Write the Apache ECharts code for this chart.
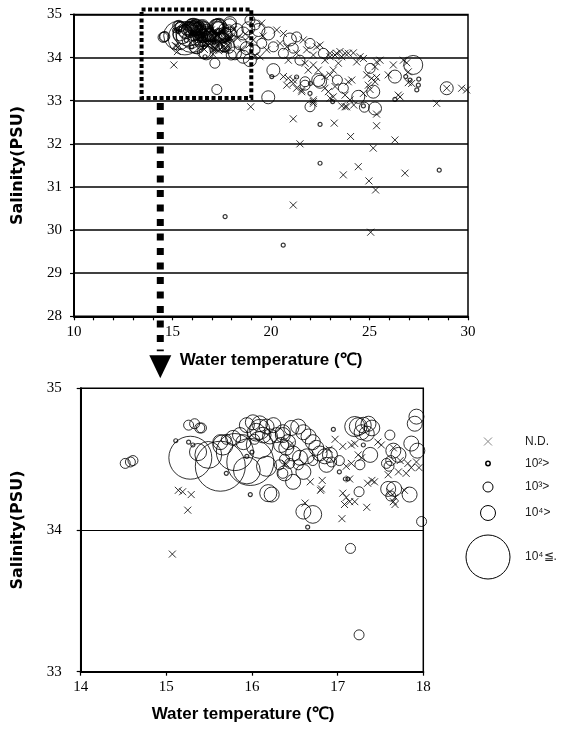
<!DOCTYPE html>
<html><head><meta charset="utf-8">
<script src="https://cdn.jsdelivr.net/npm/echarts@6/dist/echarts.min.js"></script>
<style>html,body{margin:0;padding:0;background:#fff}#c{width:561px;height:729px}</style>
</head><body><div id="c"></div>
<script>
// ---- axis ticks ----
const topXRange = [10, 30];
const topYRange = [28, 35];
const zoomXRange = [14, 18];
const zoomYRange = [33, 35];
const topXLabelStep = 5;

// ---- data: [water temperature (°C), salinity (PSU)] ----
// N.D. (not detected)
const notDetected = [
  [15.14,34.28],[15.19,34.27],[15.29,34.25],[15.25,34.14],[15.07,33.83],
  [16.39,34.47],[16.68,34.34],[16.82,34.35],[16.81,34.29],[16.80,34.28],[16.62,34.19],
  [16.97,34.64],[17.06,34.59],[17.16,34.60],[17.20,34.61],[17.24,34.53],[17.28,34.51],
  [17.47,34.62],[17.51,34.60],[17.65,34.58],[17.73,34.49],[17.82,34.47],[17.86,34.44],[17.80,34.40],[17.71,34.41],[17.59,34.39],
  [17.10,34.45],[17.16,34.47],[17.14,34.36],[17.35,34.33],[17.40,34.35],[17.43,34.34],
  [17.06,34.26],[17.10,34.23],[17.14,34.20],[17.20,34.20],[17.08,34.18],[17.34,34.16],[17.05,34.08],
  [17.61,34.27],[17.67,34.23],[17.65,34.20],[17.67,34.18],[17.78,34.28],
  [16.90,34.57],[16.45,34.60],[17.92,34.48],[17.95,34.44],
  [18.97,32.86],[19.10,34.41],[19.78,34.18],[20.46,34.33],[20.88,33.94],[21.30,34.10],[21.73,33.87],[21.89,33.71],
  [22.15,33.83],[22.40,33.71],[22.49,34.29],[22.32,34.25],[20.88,33.52],[21.13,33.40],[21.30,33.29],[21.56,33.21],
  [22.74,33.56],[23.00,33.60],[23.16,33.71],[23.42,33.87],[23.59,34.02],[23.76,34.10],[23.00,34.02],[23.33,34.10],
  [22.91,33.21],[23.25,33.33],[22.15,32.98],[23.76,32.86],[23.16,33.09],
  [19.53,34.80],[20.29,34.64],[20.63,34.56],[21.64,34.41],[21.81,34.18],[20.80,34.25],[22.15,34.06],[22.74,33.94],[19.44,34.02],
  [23.00,34.10],[23.25,34.06],[23.50,34.14],[23.92,34.10],[24.18,34.11],[24.52,34.02],[24.35,33.90],[24.69,33.98],
  [25.36,33.90],[25.53,33.94],[25.28,33.79],[24.86,33.60],[25.11,33.52],[24.94,33.36],[25.03,33.26],[25.28,33.44],
  [25.36,33.54],[24.69,33.17],[23.92,33.44],[24.10,33.48],[23.76,33.13],[24.01,33.02],[23.59,32.88],[22.15,33.02],
  [22.15,32.94],[23.00,33.06],[22.74,33.29],[21.13,33.48],[21.56,33.25],[20.80,33.36],[20.63,33.56],
  [26.21,33.83],[25.95,33.60],[26.72,33.94],[26.89,33.88],[26.97,33.67],[26.97,33.42],[27.14,33.40],[26.46,33.13],
  [26.55,33.09],[28.92,33.29],[29.68,33.29],[29.93,33.25],[28.41,32.94],
  [21.13,32.58],[21.47,32.00],[23.21,32.48],[23.67,31.28],[24.04,32.17],[24.43,31.47],[24.97,31.14],[25.19,31.90],
  [25.31,30.93],[25.36,32.42],[25.36,32.69],[24.20,32.90],[23.84,32.86],[26.29,32.09],[26.80,31.32],[21.13,30.58],[25.06,29.95],
  [18.30,34.45],[18.50,34.20],[18.70,34.55],[18.90,34.30],[19.20,34.05],[19.60,34.50],[18.10,34.65]
];
// < 10^2
const under1e2 = [
  [15.11,34.63],[15.26,34.62],[15.31,34.60],[15.94,34.52],[15.98,34.25],[16.95,34.71],[17.09,34.36],[17.12,34.36],
  [17.02,34.41],[16.65,34.02],[15.70,34.40],[16.00,34.55],[17.30,34.60],
  [20.04,33.56],[21.98,33.17],[23.13,32.98],[26.84,33.56],[27.06,33.48],[27.48,33.36],[27.40,33.25],[26.29,33.03],
  [22.49,32.45],[22.49,31.55],[28.54,31.39],[20.62,29.65],[17.67,30.31],[24.69,32.88],[21.30,33.55],[22.00,33.40],[27.50,33.50]
];
// < 10^3
const under1e3 = [
  [14.52,34.47],[14.58,34.48],[14.61,34.49],[15.26,34.74],[15.33,34.75],[15.41,34.72],[15.39,34.72],[17.15,33.87],[17.25,33.26],
  [15.70,34.64],[16.03,34.64],[16.36,34.40],[16.38,34.50],[17.61,34.67],[17.57,34.47],[17.60,34.45],[17.62,34.49],[17.62,34.24],
  [17.26,34.46],[16.54,34.46],[16.44,34.47],[16.32,34.46],[16.71,34.49],[16.93,34.48],[17.02,34.49],[17.98,34.06],[17.25,34.27],
  [19.19,34.76],[19.53,34.33],[20.12,34.25],[20.63,34.10],[21.47,33.94],[21.73,33.44],[23.67,33.29],[21.30,34.48],[21.98,34.33],
  [21.13,34.22],[22.66,34.10],[19.19,34.18],[18.93,34.87],[25.03,33.75],[23.37,33.48],[21.73,33.36],[21.98,32.86],[24.74,32.85]
];
// < 10^4
const under1e4 = [
  [16.36,34.67],[16.46,34.72],[16.54,34.73],[16.60,34.69],[16.66,34.66],[16.71,34.62],[16.75,34.58],[16.40,34.58],
  [16.48,34.54],[16.56,34.51],[16.64,34.52],[16.79,34.54],[16.85,34.52],[16.91,34.53],[16.87,34.46],[16.38,34.40],
  [16.60,34.41],[16.48,34.34],[16.60,34.13],
  [17.28,34.69],[17.34,34.68],[17.38,34.53],[17.65,34.56],[17.71,34.53],[17.90,34.75],[17.86,34.61],[17.93,34.56],
  [17.59,34.29],[17.66,34.29],[17.84,34.25],
  [15.94,34.74],[16.01,34.76],[16.17,34.73],[16.25,34.74],[16.21,34.66],[16.29,34.67],[16.36,34.69],[15.78,34.65],
  [15.86,34.67],[15.63,34.62],[15.90,34.62],[16.34,34.60],[16.42,34.62],
  [18.26,34.64],[18.59,34.56],[18.85,34.68],[18.43,34.33],[18.77,34.22],[18.17,34.10],[18.59,34.02],[19.36,34.64],
  [19.86,34.56],[20.12,33.71],[22.49,33.44],[18.93,33.94],[17.92,34.80],[19.86,33.08],[25.19,33.21],[24.43,33.09],
  [26.29,33.56],[25.28,32.82],[22.40,33.48],[28.92,33.29],[20.96,34.42]
];
// >= 10^4 : [temperature, salinity, abundance (x10^4)]
const over1e4 = [
  [15.28,34.51,8.2],[15.63,34.45,11.1],[15.98,34.48,9.8],[15.80,34.55,6.1],[15.49,34.53,3.2],[15.37,34.55,1.3],
  [16.17,34.45,1.8],[16.09,34.60,3.2],[15.66,34.60,1.8],[15.94,34.42,3.2],[16.19,34.26,1.3],[16.23,34.25,1.0],
  [16.05,34.69,1.4],[16.09,34.75,1.1],[16.13,34.67,1.1],[17.24,34.73,1.4],[17.30,34.74,1.1],[17.20,34.73,1.8],
  [17.36,34.75,1.0],[17.40,34.72,1.1],[16.71,34.11,1.4],[16.09,34.71,1.8],[27.22,33.83,3.6]
];

const chart = echarts.init(document.getElementById('c'));
const BLK = '#000';
const crossPath = 'path://M0 0L10 10M10 0L0 10';
const hollow = (w) => ({ color: 'rgba(0,0,0,0)', borderColor: BLK, borderWidth: w });

function xAxisCfg(gi, range, step, fmt, gap, pad) {
  return {
    gridIndex: gi, type: 'value', min: range[0], max: range[1], interval: step,
    axisLine: { show: true, onZero: false, lineStyle: { color: BLK, width: 2 } },
    axisTick: { show: true, inside: false, length: 4, lineStyle: { color: BLK, width: 1.2 } },
    axisLabel: { formatter: fmt, color: BLK, fontFamily: 'Liberation Serif', fontSize: 15, margin: 8 },
    splitLine: { show: false },
    name: 'Water temperature (℃)', nameLocation: 'middle', nameGap: gap,
    nameTextStyle: { color: BLK, fontFamily: 'Liberation Sans', fontWeight: 'bold', fontSize: 17, padding: pad }
  };
}
function yAxisCfg(gi, range, margin, gap, lw) {
  return {
    gridIndex: gi, type: 'value', min: range[0], max: range[1], interval: 1,
    axisLine: { show: true, onZero: false, lineStyle: { color: BLK, width: 2 } },
    axisTick: { show: true, inside: false, length: 4, lineStyle: { color: BLK, width: 1.2 } },
    axisLabel: { color: BLK, fontFamily: 'Liberation Serif', fontSize: 15, margin: margin },
    splitLine: { show: true, lineStyle: { color: BLK, width: lw } },
    name: 'Salinity(PSU)', nameLocation: 'middle', nameGap: gap, nameRotate: 90,
    nameTextStyle: { color: BLK, fontFamily: 'DejaVu Sans', fontWeight: 'bold', fontSize: 16 }
  };
}

function seriesFor(gi, big) {
  return [
    { type: 'scatter', xAxisIndex: gi, yAxisIndex: gi, data: notDetected, symbol: crossPath, symbolSize: 7,
      itemStyle: hollow(1), z: 3 },
    { type: 'scatter', xAxisIndex: gi, yAxisIndex: gi, data: under1e2, symbol: 'circle', symbolSize: 4,
      itemStyle: hollow(1.2), z: 3 },
    { type: 'scatter', xAxisIndex: gi, yAxisIndex: gi, data: under1e3, symbol: 'circle', symbolSize: 10,
      itemStyle: hollow(1), z: 3 },
    { type: 'scatter', xAxisIndex: gi, yAxisIndex: gi, data: under1e4, symbol: 'circle', symbolSize: big ? 15 : 13,
      itemStyle: hollow(1), z: 3 },
    { type: 'scatter', xAxisIndex: gi, yAxisIndex: gi, data: over1e4, symbol: 'circle',
      symbolSize: big ? (v) => 15 * Math.sqrt(v[2]) : (v) => Math.max(14, 10 * Math.sqrt(v[2])),
      itemStyle: hollow(1), z: 3 }
  ];
}

chart.setOption({
  animation: false,
  backgroundColor: '#fff',
  grid: [
    { left: 74, top: 14.5, width: 394, height: 301.8, show: true, borderColor: BLK, borderWidth: 1.5, backgroundColor: 'rgba(0,0,0,0)' },
    { left: 80.7, top: 388.3, width: 342.6, height: 283.4, show: true, borderColor: BLK, borderWidth: 1.5, backgroundColor: 'rgba(0,0,0,0)' }
  ],
  xAxis: [
    xAxisCfg(0, topXRange, 1, (v) => (v % topXLabelStep === 0 ? String(v) : ''), 36, [0, 0, 0, 0]),
    xAxisCfg(1, zoomXRange, 1, (v) => String(v), 34, [0, 18, 0, 0])
  ],
  yAxis: [
    yAxisCfg(0, topYRange, 12, 48, 1.5),
    yAxisCfg(1, zoomYRange, 19, 55, 1.2)
  ],
  series: [].concat(seriesFor(0, false), seriesFor(1, true))
});

// ---- annotation (zoom box + arrow) placed via the data scale ----
const boxTL = chart.convertToPixel({ gridIndex: 0 }, [13.43, 35.116]);
const boxBR = chart.convertToPixel({ gridIndex: 0 }, [19.0, 33.063]);
const arrowX = chart.convertToPixel({ gridIndex: 0 }, [14.38, 33])[0];
const zoomTop = chart.convertToPixel({ gridIndex: 1 }, [14, 35])[1];
const lineStart = boxBR[1] + 5;
const headTop = zoomTop - 33;
const headTip = zoomTop - 10;

// legend position
const lgX = 488, lgT = 525;
const lgRows = [441.5, 463.5, 487, 513, 557];

chart.setOption({
  graphic: [
    { type: 'rect', shape: { x: boxTL[0], y: boxTL[1], width: boxBR[0] - boxTL[0], height: boxBR[1] - boxTL[1] },
      style: { fill: 'none', stroke: BLK, lineWidth: 4, lineDash: [4, 2.5] }, z: 10 },
    { type: 'line', shape: { x1: arrowX, y1: lineStart, x2: arrowX, y2: headTop - 4 },
      style: { stroke: BLK, lineWidth: 7, lineDash: [7, 7.5] }, z: 10 },
    { type: 'polygon', shape: { points: [[arrowX - 11, headTop], [arrowX + 11, headTop], [arrowX, headTip]] },
      style: { fill: BLK }, z: 10 },
    // legend
    { type: 'line', shape: { x1: lgX - 4, y1: lgRows[0] - 4, x2: lgX + 4, y2: lgRows[0] + 4 }, style: { stroke: '#888', lineWidth: 1 } },
    { type: 'line', shape: { x1: lgX - 4, y1: lgRows[0] + 4, x2: lgX + 4, y2: lgRows[0] - 4 }, style: { stroke: '#888', lineWidth: 1 } },
    { type: 'circle', shape: { cx: lgX, cy: lgRows[1], r: 2.2 }, style: { fill: 'none', stroke: BLK, lineWidth: 1.5 } },
    { type: 'circle', shape: { cx: lgX, cy: lgRows[2], r: 5 }, style: { fill: 'none', stroke: BLK, lineWidth: 1 } },
    { type: 'circle', shape: { cx: lgX, cy: lgRows[3], r: 7.5 }, style: { fill: 'none', stroke: BLK, lineWidth: 1 } },
    { type: 'circle', shape: { cx: lgX, cy: lgRows[4], r: 22 }, style: { fill: 'none', stroke: BLK, lineWidth: 1 } },
    { type: 'text', x: lgT, y: lgRows[0], style: { text: 'N.D.', fill: '#222', font: '12px "Liberation Sans"', textVerticalAlign: 'middle', verticalAlign: 'middle' } },
    { type: 'text', x: lgT, y: lgRows[1], style: { text: '10²>', fill: '#222', font: '12px "Liberation Sans"', textVerticalAlign: 'middle', verticalAlign: 'middle' } },
    { type: 'text', x: lgT, y: lgRows[2], style: { text: '10³>', fill: '#222', font: '12px "Liberation Sans"', textVerticalAlign: 'middle', verticalAlign: 'middle' } },
    { type: 'text', x: lgT, y: lgRows[3], style: { text: '10⁴>', fill: '#222', font: '12px "Liberation Sans"', textVerticalAlign: 'middle', verticalAlign: 'middle' } },
    { type: 'text', x: lgT, y: lgRows[4], style: { text: '10⁴≦.', fill: '#222', font: '12px "Liberation Sans"', textVerticalAlign: 'middle', verticalAlign: 'middle' } }
  ]
});
</script>
</body></html>
